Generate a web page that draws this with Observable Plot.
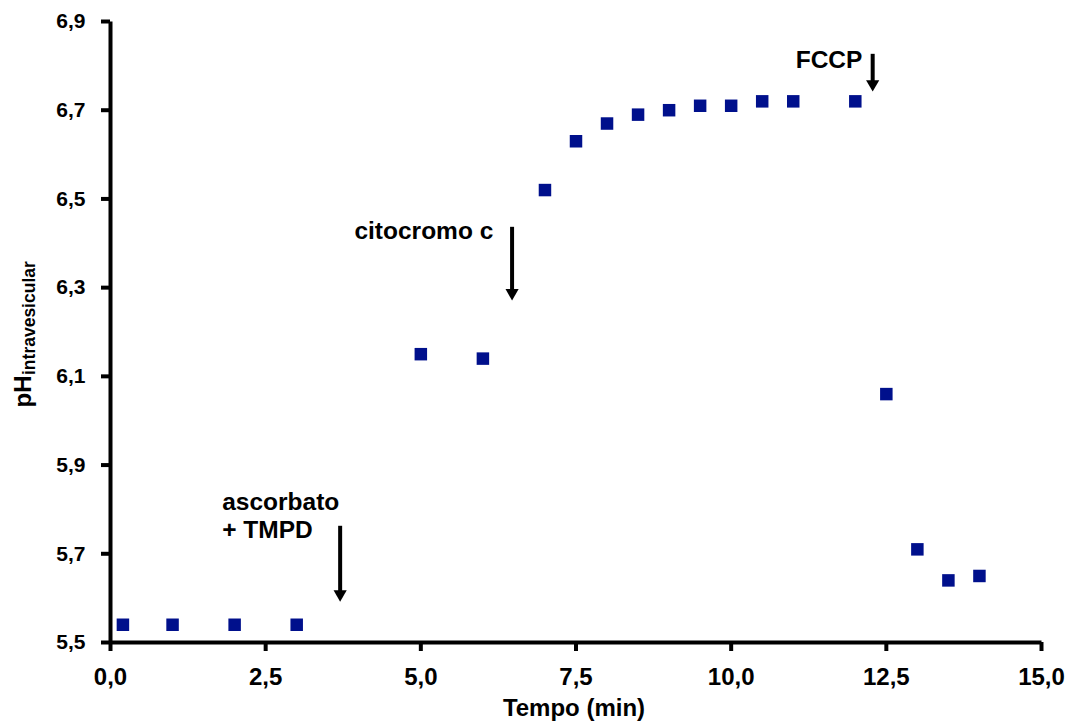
<!DOCTYPE html>
<html><head><meta charset="utf-8">
<script src="https://cdn.jsdelivr.net/npm/d3@7"></script>
<script src="https://cdn.jsdelivr.net/npm/@observablehq/plot@0.6"></script>
<style>
html,body{margin:0;padding:0;background:#fff;overflow:hidden}
#chart svg{display:block}
</style>
</head><body><div id="chart"></div>
<script>
// Data
const tempo = [0.2, 1, 2, 3, 5, 6, 7, 7.5, 8, 8.5, 9, 9.5, 10, 10.5, 11, 12, 12.5, 13, 13.5, 14];
const pHvalues = [5.54, 5.54, 5.54, 5.54, 6.15, 6.14, 6.52, 6.63, 6.67, 6.69, 6.70, 6.71, 6.71, 6.72, 6.72, 6.72, 6.06, 5.71, 5.64, 5.65];
const xTicks = [0, 2.5, 5, 7.5, 10, 12.5, 15];
const xTickLabels = ["0,0", "2,5", "5,0", "7,5", "10,0", "12,5", "15,0"];
const yTicks = [5.5, 5.7, 5.9, 6.1, 6.3, 6.5, 6.7, 6.9];
const yTickLabels = ["5,5", "5,7", "5,9", "6,1", "6,3", "6,5", "6,7", "6,9"];
const annotationLabels = ["ascorbato\n+ TMPD", "citocromo c", "FCCP"];
const annotationX = [1.80, 3.93, 11.04];
const annotationY = [5.845, 6.455, 6.841];
const arrowX = [3.70, 6.47, 12.28];
const arrowFrom = [5.762, 6.436, 6.826];
const arrowTo = [5.592, 6.271, 6.742];

const points = tempo.map((t, i) => ({t, v: pHvalues[i]}));
const notes = annotationLabels.map((label, i) => ({label, x: annotationX[i], y: annotationY[i]}));
const arrows = arrowX.map((x, i) => ({x, y1: arrowFrom[i], y2: arrowTo[i]}));
const xFmt = d => xTickLabels[xTicks.indexOf(d)];
const yFmt = d => yTickLabels[yTicks.indexOf(d)];
const xDom = [xTicks[0], xTicks[xTicks.length - 1]];
const yDom = [yTicks[0], yTicks[yTicks.length - 1]];

const chart = Plot.plot({
  width: 1071,
  height: 724,
  marginLeft: 110,
  marginRight: 30,
  marginTop: 21,
  marginBottom: 82,
  style: {fontFamily: "'Liberation Sans', Arial, sans-serif", fontWeight: "bold", color: "#000", background: "#fff"},
  x: {domain: xDom},
  y: {domain: yDom},
  marks: [
    Plot.axisX({ticks: xTicks, tickFormat: xFmt, tickSize: 9, tickPadding: 16, strokeWidth: 4, fontSize: 24, label: null}),
    Plot.axisY({ticks: yTicks, tickFormat: yFmt, tickSize: 9, tickPadding: 16, strokeWidth: 4, fontSize: 21, label: null}),
    Plot.link([{x1: xDom[0], y1: yDom[0], x2: xDom[0], y2: yDom[1]}, {x1: xDom[0], y1: yDom[0], x2: xDom[1], y2: yDom[0]}], {x1: "x1", y1: "y1", x2: "x2", y2: "y2", strokeWidth: 4, stroke: "#000"}),
    Plot.dot(points, {x: "t", y: "v", symbol: "square", r: 7.05, fill: "#00108c", stroke: null}),
    Plot.ruleX(arrows, {x: "x", y1: "y1", y2: "y2", strokeWidth: 4, insetBottom: 6}),
    Plot.dot(arrows, {x: "x", y: "y2", symbol: "triangle", rotate: 180, r: 4.9, fill: "#000", stroke: null, dy: -7.6}),
    Plot.text(notes, {x: "x", y: "y", text: "label", textAnchor: "start", lineAnchor: "top", lineHeight: 1.17, fontSize: 24.5, fill: "#000"}),
    Plot.text(["Tempo (min)"], {frameAnchor: "bottom", lineAnchor: "top", dy: 56, dx: -2, fontSize: 24, fill: "#000"}),
    Plot.text(["pH"], {frameAnchor: "left", rotate: -90, textAnchor: "start", lineAnchor: "middle", dx: -87, dy: 75.5, fontSize: 24, fill: "#000"}),
    Plot.text(["intravesicular"], {frameAnchor: "left", rotate: -90, textAnchor: "start", lineAnchor: "middle", dx: -81.5, dy: 43, fontSize: 17.5, fill: "#000"})
  ]
});
document.getElementById("chart").appendChild(chart);
</script>
</body></html>
